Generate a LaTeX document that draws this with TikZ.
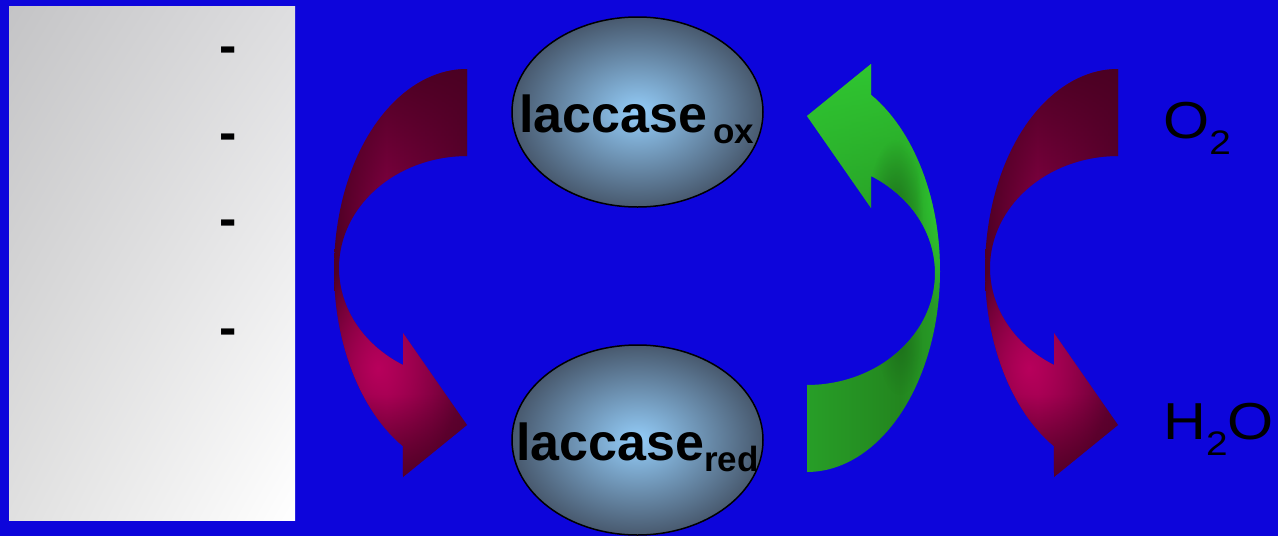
\documentclass[tikz,border=0pt]{standalone}
\usepackage{fontspec}
\setmainfont{Liberation Sans}
\usepackage{graphicx}
\usetikzlibrary{shapes.geometric,fadings,shadings}
\definecolor{bg}{RGB}{13,5,219}
\definecolor{mA}{HTML}{4A0022}
\definecolor{mB}{HTML}{820042}
\definecolor{mC}{HTML}{5A002D}
\definecolor{mBright}{HTML}{B8005C}
\definecolor{gBright}{HTML}{30C832}
\definecolor{gMid}{HTML}{28A028}
\definecolor{gDark}{HTML}{1E731C}
\definecolor{gDark2}{HTML}{23861F}
\definecolor{ellIn}{HTML}{94CDF9}
\definecolor{ellOut}{HTML}{48596E}
\definecolor{pUL}{HTML}{C4C4C6}
\definecolor{pUR}{HTML}{DEDEE0}
\definecolor{pLL}{HTML}{E0E0E0}
\tikzfading[name=softspot, inner color=transparent!0, outer color=transparent!100]
\newcommand\ArrowShape[1]{\path[#1] plot[domain=270:118.8,samples=70] ({467+133*cos(\x)},{270+201*sin(\x)}) -- (403,477) -- (467,425) -- (403,333) -- plot[domain=120:270,samples=70] ({467+128*cos(\x)},{268+112*sin(\x)}) -- cycle;}
\newcommand\MaroonFill{%
  \shade[left color=mA, right color=mB] (330,60) rectangle (386,480);
  \shade[left color=mB, right color=mC] (386,60) rectangle (470,480);
  \fill[mA, path fading=south] (330,60) rectangle (470,210);
  \fill[mBright, path fading=softspot] (378,368) ellipse (85pt and 110pt);
  \fill[mA, fill opacity=0.8, path fading=north] (330,395) rectangle (470,480);
}
\begin{document}
\begin{tikzpicture}[x=1pt,y=-1pt,
  lac/.style={ellipse, draw=black, line width=1.5pt, inner color=ellIn, outer color=ellOut, minimum width=251pt, minimum height=190pt, inner sep=0pt},
  boldtxt/.style={font=\bfseries\fontsize{52}{60}\selectfont, inner sep=0pt, text=black, anchor=base west},
  plaintxt/.style={font=\fontsize{52}{60}\selectfont, inner sep=0pt, text=black, anchor=base west},
  dashlbl/.style={font=\bfseries\fontsize{52}{60}\selectfont, inner sep=0pt, text=black, anchor=base}]
\useasboundingbox (0,0) rectangle (1278,536);
\fill[bg] (0,0) rectangle (1278,536);
% gray panel
\shade[upper left=pUL, upper right=pUR, lower left=pLL, lower right=white] (9,6) rectangle (295,520);
\node[dashlbl] (d1) at (228,63.8) {-};
\node[dashlbl] (d2) at (228,150.8) {-};
\node[dashlbl] (d3) at (228,236.8) {-};
\node[dashlbl] (d4) at (228,345.8) {-};
% left maroon arrow
\begin{scope}
  \ArrowShape{clip}
  \MaroonFill
\end{scope}
% right maroon arrow
\begin{scope}[shift={(651,0)}]
  \ArrowShape{clip}
  \MaroonFill
\end{scope}
% green arrow
\begin{scope}
  \ArrowShape{clip, rotate around={180:(637,270.5)}}
  \shade[left color=gMid, right color=gDark2] (800,55) rectangle (900,480);
  \shade[left color=gDark2, right color=gMid] (900,55) rectangle (945,480);
  \fill[gBright, path fading=south] (800,55) rectangle (945,300);
  \fill[gBright, path fading=softspot] (940,200) ellipse (25pt and 110pt);
  \fill[gDark, path fading=softspot] (895,215) ellipse (28pt and 75pt);
  \fill[gDark, path fading=softspot] (900,345) ellipse (22pt and 50pt);
\end{scope}
% ellipses
\node[lac] (lox) at (637.5,112) {};
\node[lac] (lred) at (637.5,440) {};
\node[boldtxt] (tox) at (519,132) {laccase\hspace{6pt}\raisebox{-11pt}{\fontsize{35}{40}\selectfont ox}};
\node[boldtxt] (tred) at (516,460) {laccase\raisebox{-11pt}{\fontsize{35}{40}\selectfont red}};
% O2 and H2O
\node[plaintxt] (o2) at (1163,138) {\scalebox{1.14}[1]{O\raisebox{-16pt}{\fontsize{34}{40}\selectfont 2}}};
\node[plaintxt] (h2o) at (1163,439) {\scalebox{1.14}[1]{H\raisebox{-16pt}{\fontsize{34}{40}\selectfont 2}O}};
\end{tikzpicture}
\end{document}
